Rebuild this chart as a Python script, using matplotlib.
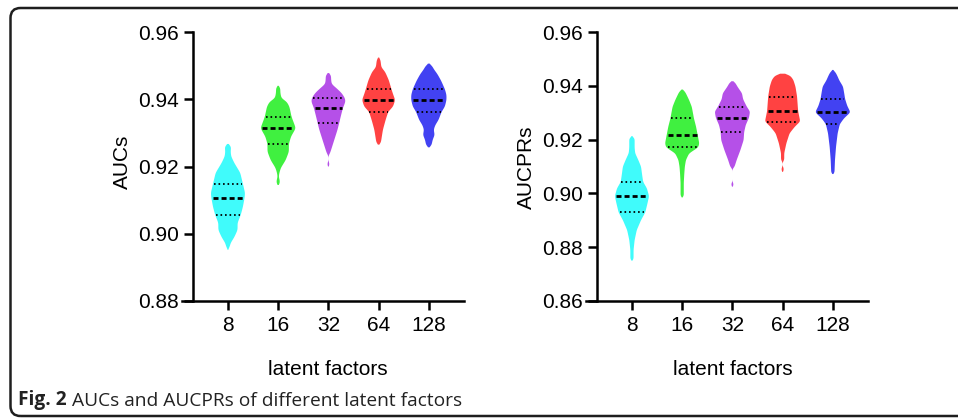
import numpy as np
import matplotlib
matplotlib.use('Agg')
import matplotlib.pyplot as plt
from matplotlib.patches import FancyBboxPatch
from matplotlib.transforms import IdentityTransform

# categories
factors = ['8', '16', '32', '64', '128']
colors = ['#40fbfb', '#40f040', '#b550e8', '#ff4242', '#4242f2']

# violin outlines: levels (ascending) and width at that level
auc_levels = [
    [0.8952, 0.8960, 0.8972, 0.8990, 0.9011, 0.9032, 0.9056, 0.9080, 0.9106, 0.9121,
     0.9148, 0.9181, 0.9210, 0.9230, 0.9245, 0.9258, 0.9263, 0.9267],
    [0.9145, 0.9148, 0.9160, 0.9168, 0.9180, 0.9196, 0.9219, 0.9244, 0.9267, 0.9289,
     0.9314, 0.9348, 0.9378, 0.9393, 0.9403, 0.9420, 0.9435, 0.9440],
    [0.9200, 0.9203, 0.9210, 0.9215, 0.9232, 0.9239, 0.9249, 0.9279, 0.9309, 0.9328,
     0.9348, 0.9373, 0.9393, 0.9403, 0.9418, 0.9433, 0.9445, 0.9460, 0.9472, 0.9478],
    [0.9265, 0.9269, 0.9279, 0.9309, 0.9338, 0.9363, 0.9378, 0.9398, 0.9415, 0.9430,
     0.9457, 0.9482, 0.9495, 0.9510, 0.9520, 0.9524],
    [0.9257, 0.9262, 0.9279, 0.9294, 0.9309, 0.9323, 0.9338, 0.9363, 0.9378, 0.9398,
     0.9413, 0.9430, 0.9455, 0.9475, 0.9490, 0.9500, 0.9506],
]
auc_dens = [
    [0, 3, 5, 12, 18, 18, 24, 28, 31, 32, 28, 23, 12, 6, 5, 6, 4, 0],
    [0, 3, 3, 1, 2, 5, 14, 20, 20, 24, 33, 25, 21, 16, 6, 4, 4, 0],
    [0, 2, 2, 0, 0, 3, 5, 11, 17, 20, 23, 27, 32, 31, 25, 15, 6, 5, 5, 0],
    [0, 4, 5, 8, 13, 18, 27, 31, 27, 24, 19, 12, 5, 4, 3, 0],
    [0, 5, 7, 11, 9, 12, 18, 24, 30, 33, 33, 30, 23, 16, 9, 6, 0],
]
auc_q1 = [0.9056, 0.9267, 0.9328, 0.9363, 0.9363]
auc_median = [0.9106, 0.9314, 0.9373, 0.9398, 0.9398]
auc_q3 = [0.9148, 0.9348, 0.9403, 0.9430, 0.9430]

aucpr_levels = [
    [0.8750, 0.8755, 0.8790, 0.8827, 0.8864, 0.8901, 0.8930, 0.8963, 0.8990, 0.9019,
     0.9043, 0.9070, 0.9100, 0.9124, 0.9150, 0.9170, 0.9190, 0.9205, 0.9213],
    [0.8985, 0.8990, 0.9040, 0.9075, 0.9100, 0.9124, 0.9149, 0.9171, 0.9186, 0.9217,
     0.9248, 0.9279, 0.9322, 0.9347, 0.9372, 0.9382, 0.9386],
    [0.9025, 0.9028, 0.9038, 0.9042, 0.9090, 0.9099, 0.9124, 0.9161, 0.9198, 0.9228,
     0.9254, 0.9281, 0.9304, 0.9322, 0.9350, 0.9372, 0.9395, 0.9405, 0.9413, 0.9417],
    [0.9080, 0.9083, 0.9095, 0.9100, 0.9115, 0.9124, 0.9149, 0.9186, 0.9223, 0.9248,
     0.9267, 0.9306, 0.9360, 0.9397, 0.9422, 0.9438, 0.9442, 0.9445],
    [0.9072, 0.9075, 0.9124, 0.9174, 0.9223, 0.9257, 0.9279, 0.9301, 0.9325, 0.9350,
     0.9375, 0.9397, 0.9420, 0.9434, 0.9450, 0.9459],
]
aucpr_dens = [
    [0, 3, 3, 5, 9, 17, 25, 29, 32, 28, 21, 19, 17, 12, 6, 5, 5, 5, 0],
    [0, 3, 3, 4, 5, 7, 13, 30, 32, 29, 26, 22, 18, 13, 7, 4, 0],
    [0, 2, 2, 0, 0, 4, 8, 15, 21, 22, 25, 31, 33, 27, 20, 18, 10, 7, 5, 0],
    [0, 2, 2, 0, 0, 3, 3, 7, 13, 23, 33, 29, 27, 24, 20, 14, 10, 0],
    [0, 3, 4, 6, 9, 13, 21, 33, 27, 23, 21, 19, 12, 9, 5, 0],
]
aucpr_q1 = [0.8930, 0.9171, 0.9228, 0.9267, 0.9257]
aucpr_median = [0.8990, 0.9217, 0.9281, 0.9306, 0.9301]
aucpr_q3 = [0.9043, 0.9279, 0.9322, 0.9360, 0.9350]

SCALE = 1 / 47.0   # density units -> category units
FONT = 'Liberation Sans'


def profile(levels, dens, n=500, sigma=0.00045):
    y = np.linspace(levels[0], levels[-1], n)
    w = np.interp(y, levels, dens)
    step = y[1] - y[0]
    k = np.arange(-3 * sigma, 3 * sigma + step, step) / sigma
    kern = np.exp(-0.5 * k ** 2)
    kern /= kern.sum()
    w = np.convolve(w, kern, mode='same')
    return y, w


def draw(ax, levels, dens, q1, med, q3, ylim, yticks):
    stats = []
    widths = []
    profs = []
    for lv, d in zip(levels, dens):
        y, w = profile(lv, d)
        profs.append((y, w))
        stats.append(dict(coords=y, vals=w, mean=np.mean(y), median=np.median(y),
                          min=y.min(), max=y.max()))
        widths.append(w.max() * SCALE)
    pos = np.arange(len(levels))
    parts = ax.violin(stats, positions=pos, widths=widths, showmeans=False,
                      showextrema=False, showmedians=False)
    for body, c in zip(parts['bodies'], colors):
        body.set_facecolor(c)
        body.set_edgecolor('none')
        body.set_alpha(1)

    for i, (y, w) in enumerate(profs):
        for q, ls, lw in [(q1[i], (0, (0.9, 1.6)), 1.3), (q3[i], (0, (0.9, 1.6)), 1.3),
                          (med[i], (0, (1.8, 1.1)), 2.0)]:
            hw = np.interp(q, y, w) * SCALE / 2 * 0.93
            ax.hlines(q, pos[i] - hw, pos[i] + hw, colors='black', linestyles=[ls],
                      linewidths=lw, zorder=3)

    ax.set_xlim(-0.915, 4.70)
    ax.set_ylim(*ylim)
    ax.set_yticks(yticks)
    ax.set_yticklabels(['%.2f' % t for t in yticks])
    ax.set_xticks(pos)
    ax.set_xticklabels(factors)
    for s in ['top', 'right']:
        ax.spines[s].set_visible(False)
    ax.spines['left'].set_position(('data', -0.69))
    for s in ['left', 'bottom']:
        ax.spines[s].set_linewidth(1.8)
    ax.tick_params(direction='out', length=6.5, width=1.8, labelsize=15, pad=4)
    for lab in ax.get_xticklabels() + ax.get_yticklabels():
        lab.set_family(FONT)


fig = plt.figure(figsize=(9.58, 4.18), dpi=100)
ax1 = fig.add_axes([182 / 958, 117 / 418, 282 / 958, 269 / 418])
ax2 = fig.add_axes([586 / 958, 117 / 418, 282 / 958, 269 / 418])

draw(ax1, auc_levels, auc_dens, auc_q1, auc_median, auc_q3,
     (0.88, 0.96), [0.88, 0.90, 0.92, 0.94, 0.96])
draw(ax2, aucpr_levels, aucpr_dens, aucpr_q1, aucpr_median, aucpr_q3,
     (0.86, 0.96), [0.86, 0.88, 0.90, 0.92, 0.94, 0.96])

fig.text(122 / 958, (418 - 162) / 418, 'AUCs', rotation=90, ha='center', va='center',
         fontsize=15, family=FONT)
fig.text(526 / 958, (418 - 167) / 418, 'AUCPRs', rotation=90, ha='center', va='center',
         fontsize=15, family=FONT)
fig.text(328 / 958, (418 - 375) / 418, 'latent factors', ha='center', va='baseline',
         fontsize=15, family=FONT)
fig.text(733 / 958, (418 - 375) / 418, 'latent factors', ha='center', va='baseline',
         fontsize=15, family=FONT)

# caption
t1 = fig.text(18 / 958, (418 - 405) / 418, 'Fig. 2', ha='left', va='baseline',
              fontsize=13.8, family='Open Sans', weight='bold', color='#222222')
ax1.annotate(' AUCs and AUCPRs of different latent factors', xy=(1, 0), xycoords=t1,
             ha='left', va='bottom', fontsize=13.8, family='Open Sans',
             color='#222222', annotation_clip=False)

# frame around figure
frame = FancyBboxPatch((10.5, 2), 1000, 408, boxstyle='round,pad=0,rounding_size=10',
                       transform=IdentityTransform(), facecolor='none',
                       edgecolor='#1e1e1e', linewidth=1.8)
fig.add_artist(frame)

fig.savefig('out.png', dpi=100)
